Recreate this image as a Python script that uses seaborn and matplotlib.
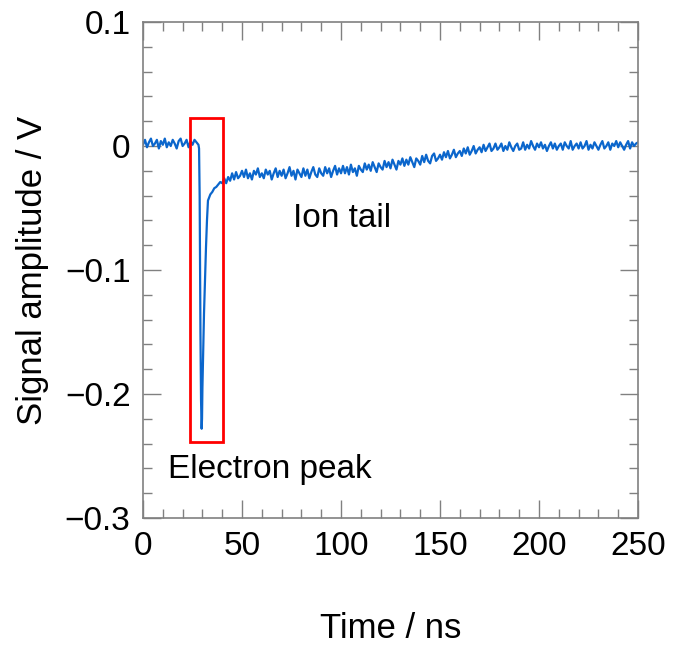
import numpy as np
import pandas as pd
import seaborn as sns
import matplotlib.pyplot as plt
from matplotlib.patches import Rectangle
from matplotlib.ticker import MultipleLocator, FuncFormatter

# signal, in mV
t_pre = np.arange(0, 28)
v_pre = [1, 5, -1, 3, 6, 0, 2, 5, -2, 4, 1, 6, -1, 3, 0, 5, 2, -2, 4, 6, 0, 2, 5, -1, 4, 1, 5, 3]

t_peak = [28, 28.3, 28.6, 29.0, 29.3, 29.6, 29.8, 30.0, 30.4, 30.8, 31.3, 31.8, 32.3, 32.8,
          33.3, 34, 35, 36, 37, 38, 39, 40]
v_peak = [1, -2, -40, -150, -205, -228, -220, -195, -165, -135, -108, -82, -60, -44,
          -42, -39, -37, -34, -33, -31, -29, -30]

t_tail = np.arange(41, 251)
v_tail = [-26, -30, -25, -28, -22, -27, -21, -26, -24, -20,
          -25, -19, -26, -22, -27, -20, -23, -18, -25, -22,
          -26, -19, -23, -20, -27, -22, -18, -25, -20, -24,
          -19, -26, -22, -17, -24, -20, -27, -19, -22, -25,
          -18, -24, -19, -26, -21, -17, -23, -25, -18, -22,
          -24, -17, -22, -18, -25, -20, -16, -23, -18, -22,
          -16, -22, -17, -23, -15, -21, -18, -24, -16, -19,
          -21, -14, -19, -15, -20, -13, -17, -21, -14, -17,
          -19, -12, -17, -13, -18, -11, -15, -19, -12, -15,
          -10, -16, -11, -15, -9, -13, -17, -10, -12, -15,
          -8, -13, -7, -12, -14, -8, -6, -12, -10, -7,
          -11, -5, -9, -4, -10, -7, -3, -9, -6, -4,
          -8, -2, -6, -1, -7, -4, 0, -6, -3, -1,
          -5, 1, -4, -1, 2, -4, -2, 2, -3, -1,
          2, -4, 0, -3, 3, -1, -4, 0, 2, -3,
          -2, 3, -3, 1, -2, 4, 0, -3, 2, -1,
          3, -2, 1, -4, 0, 3, -2, 2, -3, 0,
          2, -3, 3, 0, -2, 4, -3, 0, 2, -2,
          3, -2, 0, 4, -3, 1, -2, 3, 0, -3,
          1, 4, -2, 0, 3, -3, 2, 0, 4, -1,
          3, 0, -3, 1, 4, -2, 3, 0, 2, 3]

df = pd.DataFrame({
    'time': np.concatenate([t_pre, t_peak, t_tail]),
    'amp': np.concatenate([v_pre, v_peak, v_tail]) / 1000.0,
})

sns.set_style('ticks')
plt.rcParams['font.family'] = ['Liberation Sans', 'DejaVu Sans']
plt.rcParams['text.color'] = 'black'
plt.rcParams['axes.labelcolor'] = 'black'

fig = plt.figure(figsize=(6.74, 6.46), dpi=100)
ax = fig.add_axes([0.2122, 0.1981, 0.7344, 0.7678])

sns.lineplot(data=df, x='time', y='amp', ax=ax, color='#0b66cc', lw=1.6,
             estimator=None, sort=False)

ax.add_patch(Rectangle((23.8, -0.2385), 16.45, 0.2612, fill=False,
                       edgecolor='#ff0000', lw=2.0, zorder=3))

ax.text(75.8, -0.0653, 'Ion tail', fontsize=24, ha='left', va='baseline')
ax.text(12.6, -0.2677, 'Electron peak', fontsize=24, ha='left', va='baseline')

ax.set_xlim(0, 250)
ax.set_ylim(-0.3, 0.1)
ax.xaxis.set_major_locator(MultipleLocator(50))
ax.xaxis.set_minor_locator(MultipleLocator(10))
ax.yaxis.set_major_locator(MultipleLocator(0.1))
ax.yaxis.set_minor_locator(MultipleLocator(0.02))
ax.yaxis.set_major_formatter(FuncFormatter(lambda v, p: ('%g' % round(v, 3)).replace('-', '\u2212')))

for s in ax.spines.values():
    s.set_color('#808080')
    s.set_linewidth(1.2)
ax.tick_params(which='both', direction='in', top=True, right=True,
               color='#808080', width=1.0, labelsize=24, pad=9, labelcolor='black')
ax.tick_params(which='major', length=13)
ax.tick_params(which='minor', length=6.5)

ax.set_xlabel('Time / ns', fontsize=25)
ax.set_ylabel('Signal amplitude / V', fontsize=25)
ax.xaxis.set_label_coords(0.5, -0.19)
ax.yaxis.set_label_coords(-0.19, 0.5)

fig.savefig('out.png', dpi=100)
